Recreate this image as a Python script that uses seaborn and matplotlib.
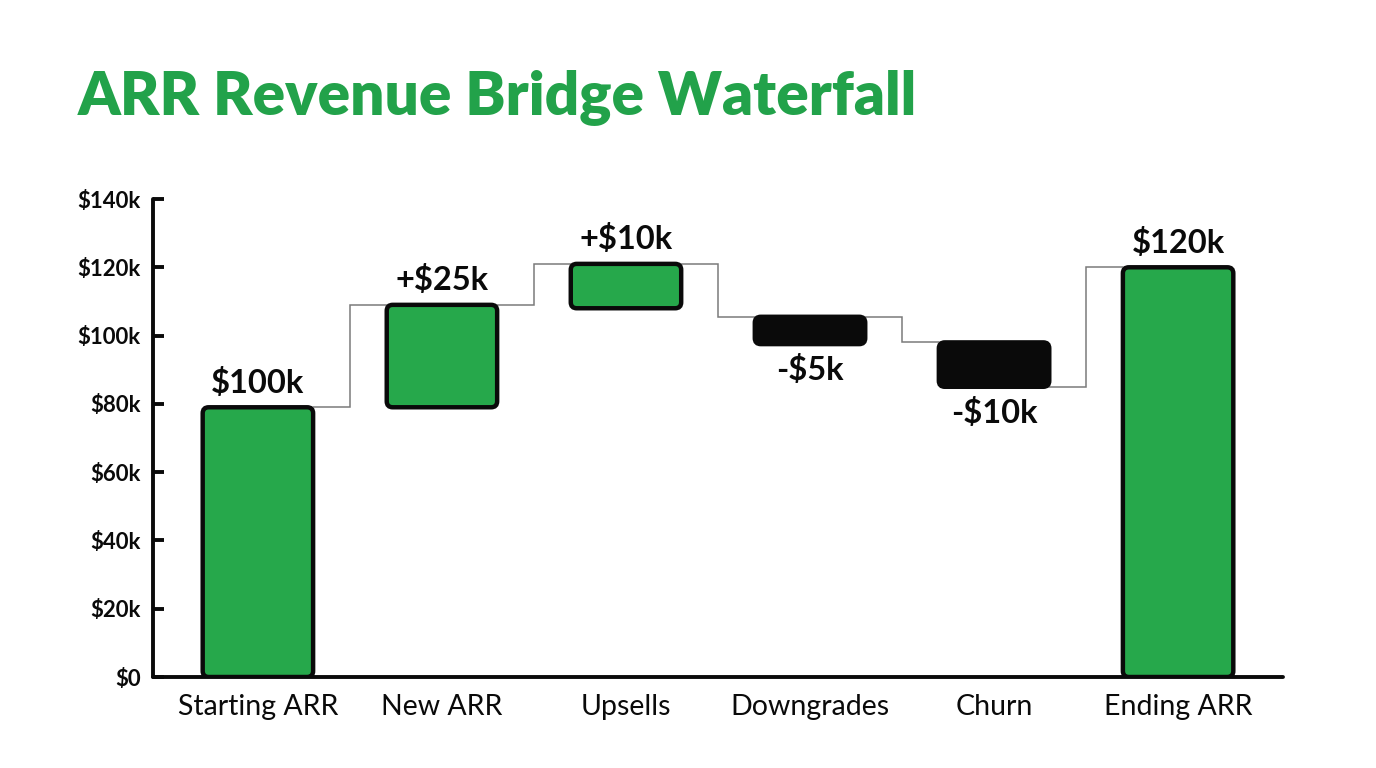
"""
ARR revenue bridge: waterfall of starting ARR, movements and ending ARR.
"""

import numpy as np
import pandas as pd
import matplotlib
matplotlib.use("Agg")
import matplotlib.pyplot as plt
from matplotlib.patches import FancyBboxPatch
import seaborn as sns

# ---------------------------------------------------------------------------
# Data ($k)
# ---------------------------------------------------------------------------
CATEGORIES  = ["Starting ARR", "New ARR", "Upsells", "Downgrades", "Churn", "Ending ARR"]
BAR_BOTTOMS = [0, 79, 108, 97.5, 85, 0]
BAR_TOPS    = [79, 109, 121, 105.5, 98, 120]
KINDS       = ["total", "up", "up", "down", "down", "total"]
VALUE_TEXT  = ["$100k", "+$25k", "+$10k", "-$5k", "-$10k", "$120k"]
EXIT_AT     = ["top", "top", "top", "top", "bottom"]   # where each connector leaves a bar

Y_TICKS  = [0, 20, 40, 60, 80, 100, 120, 140]
Y_LABELS = ["$0", "$20k", "$40k", "$60k", "$80k", "$100k", "$120k", "$140k"]

GREEN       = "#26A84B"
TITLE_GREEN = "#22A24A"
BLACK       = "#0A0A0A"
FONT        = ["Lato", "DejaVu Sans"]

# ---------------------------------------------------------------------------
# Figure
# ---------------------------------------------------------------------------
sns.set_theme(style="white")
plt.rcParams["font.family"] = FONT

df = pd.DataFrame({
    "category": CATEGORIES,
    "height":   np.array(BAR_TOPS) - np.array(BAR_BOTTOMS),
    "kind":     KINDS,
})

fig = plt.figure(figsize=(13.76, 7.68), dpi=100)
ax = fig.add_axes([153 / 1376, 1 - 677 / 768, (1283 - 153) / 1376, (677 - 199) / 768])

colors = {"total": GREEN, "up": GREEN, "down": BLACK}
palette = {c: colors[k] for c, k in zip(CATEGORIES, KINDS)}
sns.barplot(data=df, x="category", y="height", hue="category", palette=palette,
            saturation=1, width=0.6, dodge=False, legend=False, ax=ax)

ax.set_xlim(-0.57, 5.57)
ax.set_ylim(0, 140)

# lift each bar to its base and round the corners
px_x = (1283 - 153) / (5.57 + 0.57)
px_y = (677 - 199) / 140
for rect in list(ax.patches):
    x0, w, h = rect.get_x(), rect.get_width(), rect.get_height()
    if h == 0:
        continue
    idx = int(round(x0 + w / 2))
    r = 6 / px_x
    fb = FancyBboxPatch((x0, BAR_BOTTOMS[idx]), w, h,
                        boxstyle=f"round,pad=0,rounding_size={r}",
                        mutation_aspect=px_x / px_y,
                        facecolor=rect.get_facecolor(), edgecolor=BLACK,
                        linewidth=3.2, zorder=3)
    rect.remove()
    ax.add_patch(fb)

# connectors
half = 0.3
for i in range(len(CATEGORIES) - 1):
    y_out = BAR_TOPS[i] if EXIT_AT[i] == "top" else BAR_BOTTOMS[i]
    y_in = BAR_TOPS[i + 1]
    ax.plot([i + half, i + 0.5, i + 0.5, i + 1 - half], [y_out, y_out, y_in, y_in],
            color="#7A7A7A", lw=1.1, zorder=2, solid_joinstyle="miter")

# value labels
for i, txt in enumerate(VALUE_TEXT):
    if KINDS[i] == "down":
        ax.annotate(txt, (i, BAR_BOTTOMS[i]), xytext=(0, -8), textcoords="offset points",
                    ha="center", va="top", fontsize=23.5, fontweight="bold", color=BLACK)
    else:
        ax.annotate(txt, (i, BAR_TOPS[i]), xytext=(0, 7), textcoords="offset points",
                    ha="center", va="bottom", fontsize=23.5, fontweight="bold", color=BLACK)

# axes styling
sns.despine(ax=ax)
for side in ["left", "bottom"]:
    ax.spines[side].set_linewidth(2.8)
    ax.spines[side].set_color(BLACK)
    ax.spines[side].set_capstyle("round")

ax.set_yticks(Y_TICKS)
ax.set_yticklabels(Y_LABELS, fontsize=16, fontweight="bold", color=BLACK)
ax.tick_params(axis="y", left=True, direction="in", length=8, width=2.8, color=BLACK, pad=9)
ax.tick_params(axis="x", bottom=False, length=0, pad=12, labelsize=20.5, labelcolor=BLACK)
ax.set_xlabel("")
ax.set_ylabel("")
ax.grid(False)

fig.text(78 / 1376, 1 - 97 / 768, "ARR Revenue Bridge Waterfall", ha="left", va="center",
         fontsize=43.4, fontweight="heavy", color=TITLE_GREEN)

fig.savefig("out.png", dpi=100, facecolor="white")
